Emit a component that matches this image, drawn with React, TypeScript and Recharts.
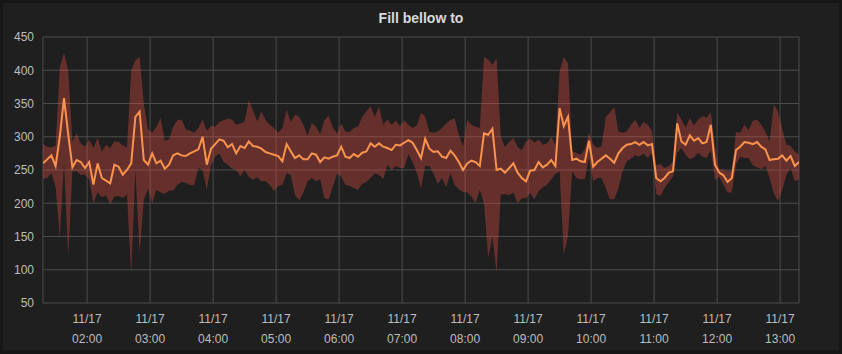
import React from 'react';
import { ComposedChart, Area, Line, XAxis, YAxis, CartesianGrid } from 'recharts';

// Time axis: minutes since 00:00 on 11/17, sampled every 4 minutes starting 01:18
const startMinute = 78;
const stepMinutes = 4;
const endMinute = 798;

const meanValues = [
  260, 266, 272, 256, 300, 358, 304, 254, 265, 262, 253, 262, 228, 260, 238, 234, 230, 258, 255, 243,
  250, 260, 330, 338, 265, 258, 275, 260, 264, 252, 258, 272, 275, 272, 271, 275, 278, 281, 300, 258,
  282, 289, 296, 294, 284, 289, 275, 286, 283, 293, 286, 285, 282, 277, 275, 273, 271, 263, 289, 278,
  268, 272, 266, 266, 275, 273, 262, 269, 267, 270, 272, 285, 270, 268, 274, 270, 276, 278, 290, 285,
  290, 285, 283, 280, 288, 287, 291, 295, 291, 280, 268, 297, 282, 277, 278, 270, 268, 279, 272, 262,
  250, 260, 264, 262, 256, 305, 303, 312, 250, 252, 246, 253, 260, 246, 238, 233, 249, 250, 262, 254,
  258, 265, 256, 343, 316, 330, 265, 267, 263, 262, 294, 255, 262, 267, 272, 267, 261, 275, 283, 288,
  289, 292, 288, 292, 287, 289, 238, 233, 238, 246, 248, 320, 293, 288, 302, 294, 298, 290, 292, 318,
  258, 246, 242, 232, 238, 280, 285, 292, 291, 289, 292, 285, 281, 265, 266, 267, 272, 264, 271, 256,
  262,
];

const upperValues = [
  289, 285, 284, 287, 405, 426, 400, 293, 305, 290, 285, 296, 283, 298, 278, 288, 283, 293, 292, 287,
  284, 400, 415, 420, 350, 311, 306, 315, 328, 294, 296, 315, 325, 326, 311, 309, 306, 313, 326, 309,
  316, 315, 322, 325, 327, 326, 318, 320, 323, 355, 340, 323, 338, 325, 318, 313, 306, 313, 341, 322,
  333, 330, 318, 302, 321, 315, 304, 325, 332, 314, 305, 320, 308, 307, 313, 315, 330, 338, 346, 330,
  345, 318, 326, 318, 324, 316, 325, 318, 313, 317, 336, 330, 307, 306, 308, 313, 320, 325, 328, 303,
  285, 325, 318, 315, 313, 420, 416, 408, 418, 300, 285, 292, 298, 285, 280, 293, 297, 291, 296, 288,
  290, 300, 288, 398, 420, 410, 278, 276, 273, 281, 306, 288, 283, 286, 330, 336, 345, 308, 306, 308,
  318, 326, 313, 322, 318, 308, 257, 259, 253, 256, 262, 336, 326, 314, 328, 317, 326, 331, 329, 337,
  285, 251, 250, 248, 248, 307, 306, 318, 310, 324, 326, 318, 308, 293, 349, 338, 312, 288, 286, 278,
  273,
];

const lowerValues = [
  237, 238, 245, 225, 148, 262, 120, 248, 248, 243, 243, 236, 200, 216, 209, 212, 198, 210, 211, 208,
  213, 93, 250, 125, 205, 222, 200, 220, 216, 214, 219, 219, 228, 232, 231, 227, 228, 253, 250, 220,
  257, 270, 275, 262, 258, 252, 250, 241, 250, 240, 235, 239, 233, 233, 228, 218, 226, 228, 245, 242,
  212, 204, 216, 233, 238, 233, 236, 208, 206, 225, 244, 240, 228, 226, 223, 220, 229, 232, 238, 245,
  243, 236, 258, 250, 256, 253, 253, 274, 262, 246, 222, 256, 256, 244, 229, 238, 224, 245, 228, 221,
  217, 216, 210, 200, 220, 200, 118, 150, 95, 213, 214, 212, 216, 200, 207, 208, 215, 206, 218, 224,
  228, 236, 244, 248, 123, 151, 248, 238, 236, 236, 268, 233, 238, 238, 222, 206, 206, 222, 248, 263,
  267, 272, 270, 275, 268, 276, 214, 211, 223, 232, 240, 276, 283, 273, 266, 269, 276, 270, 268, 280,
  235, 240, 228, 216, 216, 258, 270, 268, 268, 257, 254, 251, 256, 238, 215, 203, 220, 243, 253, 233,
  236,
];

const xTicks = [120, 180, 240, 300, 360, 420, 480, 540, 600, 660, 720, 780];
const xTickTimes = ['02:00', '03:00', '04:00', '05:00', '06:00', '07:00', '08:00', '09:00', '10:00', '11:00', '12:00', '13:00'];
const xTickDate = '11/17';
const yTicks = [50, 100, 150, 200, 250, 300, 350, 400, 450];

const title = 'Fill bellow to';

const data = meanValues.map((m, i) => ({
  t: startMinute + i * stepMinutes,
  mean: m,
  band: [lowerValues[i], upperValues[i]],
}));

const FONT = '"Liberation Sans", Arial, Helvetica, sans-serif';
const TICK_COLOR = '#bdbdbd';

const XTick = (props: any) => {
  const { x, payload } = props;
  const idx = xTicks.indexOf(payload.value);
  return (
    <g>
      <text x={x} y={322.5} textAnchor="middle" fill={TICK_COLOR} fontSize={12} fontFamily={FONT}>
        {xTickDate}
      </text>
      <text x={x} y={342.5} textAnchor="middle" fill={TICK_COLOR} fontSize={12} fontFamily={FONT}>
        {idx >= 0 ? xTickTimes[idx] : ''}
      </text>
    </g>
  );
};

const YTick = (props: any) => {
  const { y, payload } = props;
  return (
    <text x={34} y={y + 4.3} textAnchor="end" fill={TICK_COLOR} fontSize={12} fontFamily={FONT}>
      {payload.value}
    </text>
  );
};

export default function App() {
  return (
    <div style={{ position: 'fixed', left: 0, top: 0, width: 842, height: 354, background: '#161616', overflow: 'hidden' }}>
      <div style={{ position: 'absolute', left: 3, top: 3, width: 836, height: 347, background: '#1f1f1f' }} />
      <div
        style={{
          position: 'absolute',
          left: 0,
          top: 0,
          width: 842,
          textAlign: 'center',
          paddingLeft: 0,
          fontFamily: FONT,
          fontWeight: 'bold',
          fontSize: 14,
          color: '#d8d9da',
          lineHeight: '16px',
          paddingTop: 10,
        }}
      >
        {title}
      </div>
      <div style={{ position: 'absolute', left: 0, top: 0 }}>
        <ComposedChart
          width={842}
          height={354}
          data={data}
          margin={{ top: 37, right: 43, bottom: 11, left: 5 }}
        >
          <CartesianGrid stroke="#4c4c4c" strokeWidth={1} />
          <XAxis
            dataKey="t"
            type="number"
            domain={[startMinute, endMinute]}
            ticks={xTicks}
            interval={0}
            axisLine={false}
            tickLine={false}
            height={40}
            tick={<XTick />}
            allowDataOverflow
          />
          <YAxis
            type="number"
            domain={[50, 450]}
            ticks={yTicks}
            interval={0}
            axisLine={false}
            tickLine={false}
            width={38}
            tick={<YTick />}
            allowDataOverflow
          />
          <Area
            type="linear"
            dataKey="band"
            stroke="none"
            fill="#E24D42"
            fillOpacity={0.36}
            isAnimationActive={false}
            dot={false}
            activeDot={false}
          />
          <Line
            type="linear"
            dataKey="mean"
            stroke="#F9934E"
            strokeWidth={2}
            dot={false}
            activeDot={false}
            isAnimationActive={false}
          />
        </ComposedChart>
      </div>
    </div>
  );
}
